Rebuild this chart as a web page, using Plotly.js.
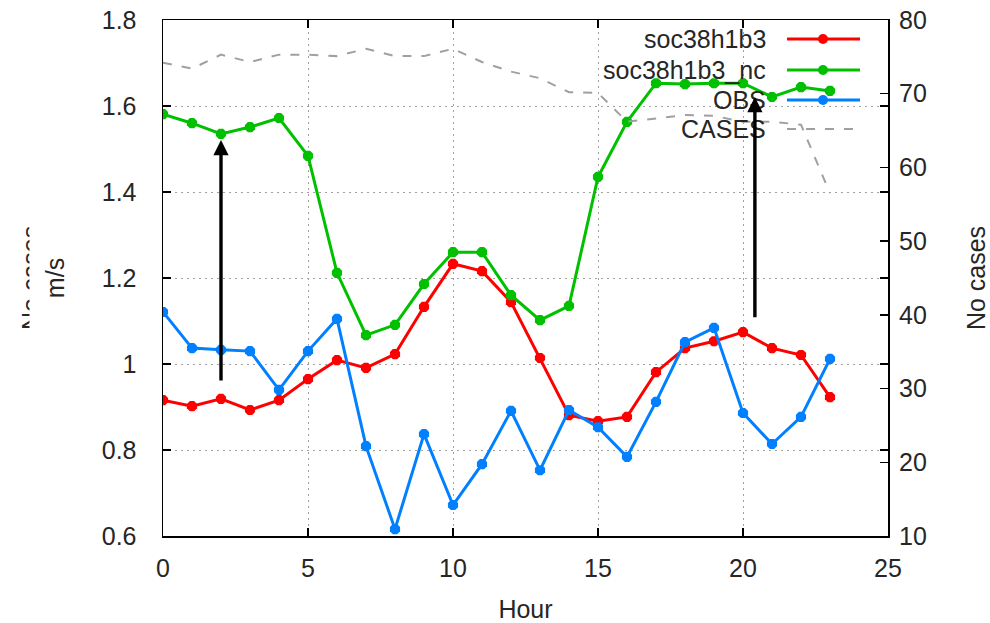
<!DOCTYPE html>
<html>
<head>
<meta charset="utf-8">
<script src="https://cdn.plot.ly/plotly-3.0.1.min.js"></script>
<style>html,body{margin:0;padding:0;background:#fff;}#chart{width:990px;height:623px;}</style>
</head>
<body>
<div id="chart"></div>
<script>
// ---- data ----
const hours = [0,1,2,3,4,5,6,7,8,9,10,11,12,13,14,15,16,17,18,19,20,21,22,23];
const soc38h1b3 = [0.916,0.902,0.919,0.893,0.916,0.965,1.009,0.991,1.023,1.133,1.233,1.216,1.144,1.014,0.881,0.867,0.877,0.981,1.037,1.053,1.074,1.037,1.021,0.923];
const soc38h1b3_nc = [1.581,1.560,1.535,1.551,1.572,1.484,1.212,1.067,1.091,1.186,1.260,1.260,1.160,1.102,1.135,1.435,1.563,1.653,1.651,1.653,1.653,1.621,1.644,1.635];
const obs = [1.121,1.037,1.033,1.030,0.940,1.030,1.105,0.809,0.616,0.837,0.672,0.767,0.891,0.753,0.893,0.853,0.784,0.912,1.051,1.084,0.886,0.814,0.877,1.012];
const cases = [74.2,73.4,75.3,74.3,75.3,75.3,75.1,76.1,75.1,75.1,76.1,74.3,73.0,72.1,70.2,70.1,66.2,66.7,67.1,67.0,66.2,66.2,65.8,56.5];
const seriesNames = ['soc38h1b3','soc38h1b3_nc','OBS','CASES'];
const arrowHours = [2, 20.41];
const arrowFrom = [0.958, 1.105];
const arrowTo = [1.521, 1.621];

// ---- styles ----
const colors = ['#ff0000','#00c000','#0080ff','#a0a0a0'];
const txt = '#262626';
const FONT = 'Liberation Sans, Arial, sans-serif';
const FS = 25;

function lineTrace(y, i) {
  return {
    x: hours, y: y, type: 'scatter', mode: 'lines+markers', name: seriesNames[i],
    line: {color: colors[i], width: 3},
    marker: {color: colors[i], symbol: 'octagon', size: 11},
    showlegend: false, hoverinfo: 'skip'
  };
}
const traces = [
  lineTrace(soc38h1b3, 0),
  lineTrace(soc38h1b3_nc, 1),
  lineTrace(obs, 2),
  {x: hours, y: cases, type: 'scatter', mode: 'lines', name: seriesNames[3], yaxis: 'y2',
   line: {color: colors[3], width: 2, dash: '9px,10px'}, showlegend: false, hoverinfo: 'skip'}
];

// plot-area geometry helpers (paper coords)
const L = 163, R = 888, T = 20, B = 536;
const px = v => (v - L) / (R - L);
const py = v => (B - v) / (B - T);

const legendRows = [39, 70, 100, 129];
const annotations = [];
const shapes = [];

// legend (gnuplot style: text right-aligned, sample to the right)
seriesNames.forEach((n, i) => {
  annotations.push({xref: 'paper', yref: 'paper', x: px(768), y: py(legendRows[i]), xanchor: 'right', yanchor: 'middle',
    text: n, showarrow: false, font: {family: FONT, size: FS, color: txt}});
  shapes.push({type: 'line', xref: 'paper', yref: 'paper', x0: px(787), x1: px(860), y0: py(legendRows[i]), y1: py(legendRows[i]),
    line: {color: colors[i], width: i === 3 ? 2 : 3, dash: i === 3 ? '9px,10px' : 'solid'}, layer: 'above'});
  if (i < 3) {
    shapes.push({type: 'circle', xref: 'paper', yref: 'paper', xsizemode: 'pixel', ysizemode: 'pixel',
      xanchor: px(823), yanchor: py(legendRows[i]), x0: -5, x1: 5, y0: -5, y1: 5,
      fillcolor: colors[i], line: {width: 0}, layer: 'above'});
  }
});

// key keep-out region: hides grid lines behind key
shapes.push({type: 'rect', xref: 'paper', yref: 'paper', x0: px(583), x1: 1, y0: py(145), y1: 1,
  fillcolor: '#ffffff', line: {width: 0}, layer: 'between'});

// arrows
arrowHours.forEach((h, i) => {
  annotations.push({x: h, y: arrowTo[i], ax: h, ay: arrowFrom[i], xref: 'x', yref: 'y', axref: 'x', ayref: 'y',
    text: '', showarrow: true, arrowhead: 2, arrowsize: 0.9, arrowwidth: 3.4, arrowcolor: '#000000', standoff: 0});
});

// clipped second left label
annotations.push({xref: 'paper', yref: 'paper', x: px(31), y: 0.5, xanchor: 'center', yanchor: 'middle',
  text: 'No cases', textangle: -90, showarrow: false, font: {family: FONT, size: FS, color: txt}});
annotations.push({xref: 'paper', yref: 'paper', x: px(36), y: 0.5, xanchor: 'center', yanchor: 'middle',
  text: ' ', showarrow: false, bgcolor: '#ffffff', borderpad: 0, width: 12, height: 140});

const axisCommon = {
  ticks: 'inside', ticklen: 8, tickwidth: 1.5, tickcolor: '#000',
  showline: true, linecolor: '#000', linewidth: 1.5, zeroline: false,
  tickfont: {family: FONT, size: FS, color: txt}
};

const layout = {
  width: 990, height: 623,
  margin: {l: L, r: 990 - R, t: T, b: 623 - B, pad: 0},
  paper_bgcolor: '#fff', plot_bgcolor: '#fff',
  font: {family: FONT, size: FS, color: txt},
  showlegend: false, hovermode: false,
  xaxis: Object.assign({}, axisCommon, {
    range: [0, 25], tick0: 0, dtick: 5, mirror: 'ticks',
    showgrid: true, gridcolor: '#a0a0a0', gridwidth: 1, griddash: '2px,4px',
    ticklabelstandoff: 9,
    title: {text: 'Hour', standoff: 20, font: {family: FONT, size: FS, color: txt}}
  }),
  yaxis: Object.assign({}, axisCommon, {
    range: [0.6, 1.8], tick0: 0.6, dtick: 0.2, mirror: 'ticks',
    showgrid: true, gridcolor: '#a0a0a0', gridwidth: 1, griddash: '2px,4px',
    ticklabelstandoff: 20,
    title: {text: 'm/s', standoff: 30, font: {family: FONT, size: FS, color: txt}}
  }),
  yaxis2: Object.assign({}, axisCommon, {
    overlaying: 'y', side: 'right', range: [10, 80], tick0: 10, dtick: 10,
    showgrid: false, showline: false, ticklabelstandoff: 10,
    title: {text: 'No cases', standoff: 46, font: {family: FONT, size: FS, color: txt}}
  }),
  annotations: annotations,
  shapes: shapes
};

Plotly.newPlot('chart', traces, layout, {staticPlot: true, displayModeBar: false});
</script>
</body>
</html>
